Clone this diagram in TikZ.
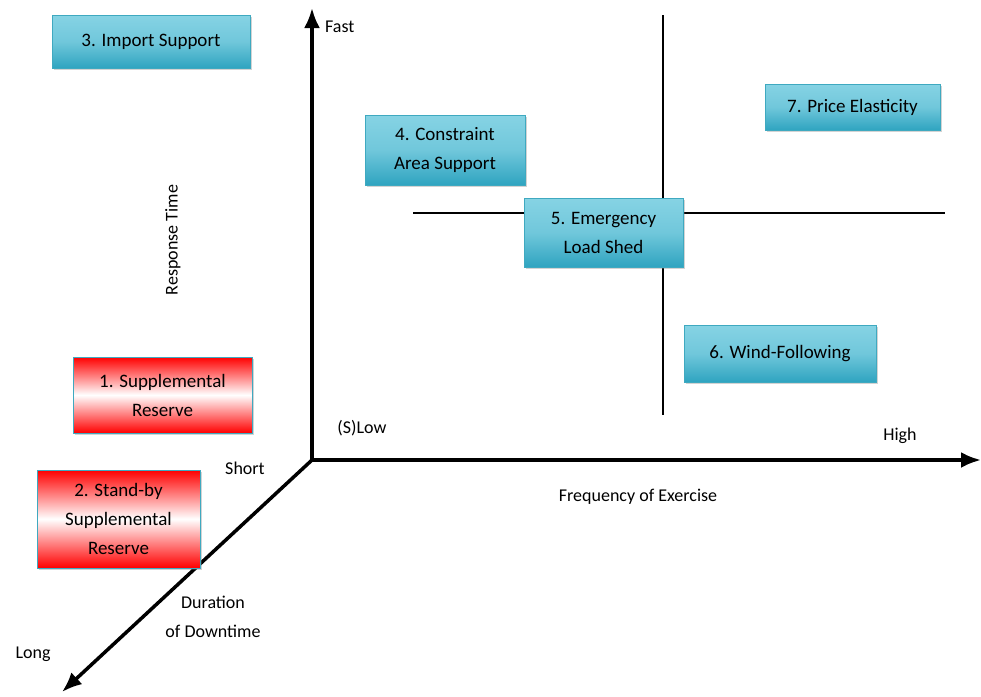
\documentclass[tikz,border=0pt]{standalone}
\usepackage{fontspec}
\setmainfont{Carlito}
\usetikzlibrary{arrows.meta,shadows}
\definecolor{boxedge}{HTML}{3FA9C0}
\definecolor{bluetop}{HTML}{86D3E4}
\definecolor{bluebot}{HTML}{2FA4C0}
\tikzset{
  bluebox/.style={draw=boxedge, line width=0.8pt, top color=bluetop, bottom color=bluebot, middle color=bluetop!75!bluebot,
    drop shadow={shadow xshift=1.5pt, shadow yshift=-1.5pt, opacity=0.35}, font=\fontsize{19}{29}\selectfont, align=center, inner sep=0pt},
  redbox/.style={draw=boxedge, line width=0.8pt, top color=red, bottom color=red, middle color=white,
    drop shadow={shadow xshift=1.5pt, shadow yshift=-1.5pt, opacity=0.35}, font=\fontsize{19}{29}\selectfont, align=center, inner sep=0pt},
  axis/.style={line width=3.5pt, -{Latex[length=20pt,width=16pt]}},
  quad/.style={line width=1.2pt},
  lab/.style={font=\fontsize{18}{29}\selectfont, align=center, inner sep=0pt}
}
\begin{document}
\begin{tikzpicture}[x=1pt,y=-1pt]
\useasboundingbox (0,0) rectangle (981,696);
% quadrant lines
\coordinate (qt) at (663,15);
\coordinate (qb) at (663,415);
\coordinate (ql) at (413,213);
\coordinate (qr) at (945,213);
\draw[quad] (qt) -- (qb);
\draw[quad] (ql) -- (qr);
% axes
\coordinate (o) at (312,460);
\coordinate (yend) at (312,8);
\coordinate (xend) at (981,460);
\coordinate (zend) at (62,692);
\draw[axis] (o) -- (yend);
\draw[axis] (o) -- (xend);
\draw[axis] (o) -- (zend);
% boxes
\node[bluebox, minimum width=198pt, minimum height=53pt] (b3) at (151,41.5) {3. Import Support};
\node[bluebox, minimum width=160pt, minimum height=70pt] (b4) at (445,150) {4. Constraint\\Area Support};
\node[bluebox, minimum width=159pt, minimum height=69pt] (b5) at (603.5,232.5) {5. Emergency\\Load Shed};
\node[bluebox, minimum width=175pt, minimum height=46pt] (b7) at (852.5,107) {7. Price Elasticity};
\node[bluebox, minimum width=192pt, minimum height=57pt] (b6) at (780,353.5) {6. Wind-Following};
\node[redbox, minimum width=179pt, minimum height=76pt] (b1) at (162.5,395) {1. Supplemental\\Reserve};
\node[redbox, minimum width=163pt, minimum height=98pt] (b2) at (118.5,519) {2. Stand-by\\Supplemental\\Reserve};
% labels
\node[lab, anchor=west] (fast) at (325,27) {Fast};
\node[lab, rotate=90] (rt) at (173,240) {Response Time};
\node[lab] (slow) at (362,428) {(S)Low};
\node[lab] (high) at (900,436) {High};
\node[lab] (short) at (245,468) {Short};
\node[lab] (freq) at (638,497) {Frequency of Exercise};
\node[lab] (dur) at (213,617) {Duration\\of Downtime};
\node[lab] (long) at (33,654) {Long};
\end{tikzpicture}
\end{document}
